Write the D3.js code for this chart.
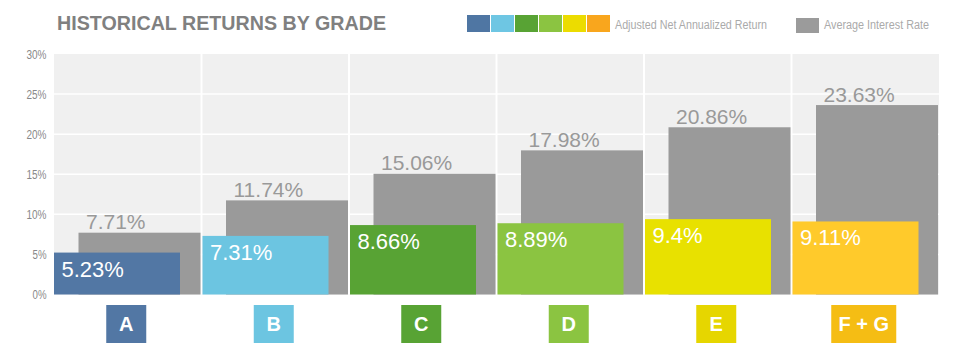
<!DOCTYPE html>
<html><head><meta charset="utf-8">
<script src="https://cdn.jsdelivr.net/npm/d3@7"></script>
<style>body{margin:0;background:#fff}svg{display:block}</style>
</head><body><svg id="c" width="956" height="355"></svg>
<script>
const categories = ["A","B","C","D","E","F + G"];
const netReturn = [5.23, 7.31, 8.66, 8.89, 9.4, 9.11];
const interestRate = [7.71, 11.74, 15.06, 17.98, 20.86, 23.63];
const yTicks = [0, 5, 10, 15, 20, 25, 30];
const barColors = ["#5277a4", "#6cc5e1", "#58a334", "#8bc441", "#e8e100", "#ffca2b"];
const boxColors = ["#5277a4", "#6cc5e1", "#58a334", "#8bc441", "#e6d600", "#f5bd14"];
const legendColors = ["#4f76a3", "#6ec6e3", "#58a334", "#8bc441", "#ecdc00", "#f9a61d"];
const legendLabels = ["Adjusted Net Annualized Return", "Average Interest Rate"];
const title = "HISTORICAL RETURNS BY GRADE";

const svg = d3.select("#c");
const font = "'Liberation Sans', Arial, sans-serif";
const x = d3.scaleBand().domain(categories).range([54, 939]);
const y = d3.scaleLinear().domain([0, 30]).range([294.5, 54]);
const bw = x.bandwidth();

// title
svg.append("text").attr("x", 57).attr("y", 30).text(title)
  .attr("font-family", font).attr("font-weight", "bold").attr("font-size", 20).attr("fill", "#808080")
  .attr("textLength", 329).attr("lengthAdjust", "spacingAndGlyphs");

// legend
legendColors.forEach((c, i) => {
  svg.append("rect").attr("x", 467 + i * 24).attr("y", 15).attr("width", 23).attr("height", 17).attr("fill", c);
});
svg.append("text").attr("x", 615).attr("y", 29).text(legendLabels[0])
  .attr("font-family", font).attr("font-size", 12.5).attr("fill", "#aaa")
  .attr("textLength", 152).attr("lengthAdjust", "spacingAndGlyphs");
svg.append("rect").attr("x", 796).attr("y", 18).attr("width", 23).attr("height", 15).attr("fill", "#9b9b9b");
svg.append("text").attr("x", 824).attr("y", 29).text(legendLabels[1])
  .attr("font-family", font).attr("font-size", 12.5).attr("fill", "#aaa")
  .attr("textLength", 105).attr("lengthAdjust", "spacingAndGlyphs");

// plot background
svg.append("rect").attr("x", 54).attr("y", y(30)).attr("width", 885).attr("height", y(0) - y(30)).attr("fill", "#f0f0f0");
// gridlines
svg.selectAll(".grid").data(yTicks.filter(t => t > 0 && t < 30)).join("line")
  .attr("x1", 54).attr("x2", 939).attr("y1", d => y(d)).attr("y2", d => y(d))
  .attr("stroke", "#fff").attr("stroke-width", 1.5);
// column separators
svg.selectAll(".sep").data(categories.slice(1)).join("line")
  .attr("x1", d => x(d)).attr("x2", d => x(d)).attr("y1", y(30)).attr("y2", y(0))
  .attr("stroke", "#fff").attr("stroke-width", 2);

// y tick labels
svg.selectAll(".yt").data(yTicks).join("text")
  .attr("x", 46.5).attr("y", d => y(d) + 4.5).attr("text-anchor", "end")
  .text(d => d + "%").attr("font-family", font).attr("font-size", 12.5).attr("fill", "#888")
  .attr("textLength", d => d === 0 || d === 5 ? 14 : 20).attr("lengthAdjust", "spacingAndGlyphs");

// bars
const g = svg.append("g");
categories.forEach((c, i) => {
  const x0 = x(c);
  const gx = x0 + 24.5, gw = bw - 25.5;
  g.append("rect").attr("x", gx).attr("y", y(interestRate[i])).attr("width", gw)
    .attr("height", y(0) - y(interestRate[i])).attr("fill", "#9a9a9a");
  g.append("text").attr("x", gx + 7.5).attr("y", y(interestRate[i]) - 3.5)
    .text(interestRate[i] + "%").attr("font-family", font).attr("font-size", 21).attr("fill", "#999");
  const cx = x0 + (i === 0 ? 0 : 1), cw = 126;
  g.append("rect").attr("x", cx).attr("y", y(netReturn[i])).attr("width", cw)
    .attr("height", y(0) - y(netReturn[i])).attr("fill", barColors[i]);
  g.append("text").attr("x", cx + 7.5).attr("y", y(netReturn[i]) + 24)
    .text(netReturn[i] + "%").attr("font-family", font).attr("font-size", 22).attr("fill", "#fff");
  // category box
  const boxW = c.length > 1 ? 65 : 40;
  const center = x0 + bw / 2 - 1.5;
  g.append("rect").attr("x", center - boxW / 2).attr("y", 305).attr("width", boxW).attr("height", 38)
    .attr("fill", boxColors[i]);
  g.append("text").attr("x", center).attr("y", 331).attr("text-anchor", "middle")
    .text(c).attr("font-family", font).attr("font-weight", "bold").attr("font-size", 20).attr("fill", "#fff");
});
</script></body></html>
